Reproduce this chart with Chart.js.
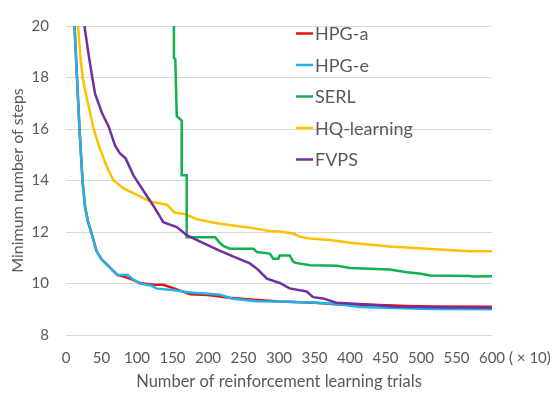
<!DOCTYPE html>
<html>
<head>
<meta charset="utf-8">
<script src="https://cdn.jsdelivr.net/npm/chart.js@4"></script>
<style>
  html, body { margin: 0; padding: 0; background: #fff; }
  #wrap { width: 560px; height: 394px; position: relative; }
</style>
</head>
<body>
<div id="wrap"><canvas id="chart" width="560" height="394"></canvas></div>
<script>
// Minimum number of steps vs. reinforcement learning trials (x10)
const seriesNames = ['HPG-a', 'HPG-e', 'SERL', 'HQ-learning', 'FVPS'];
const seriesColors = ['#E3110F', '#1EB4EA', '#12B04F', '#FFC000', '#7030A0'];

const hpgaX = [12, 15.5, 19, 23.5, 27, 31, 36, 43, 50, 57, 66, 73, 80, 90, 104, 123, 137, 150, 175, 200, 230, 260, 300, 350, 390, 432, 480, 520, 600];
const hpgaY = [20, 18, 16, 13.9, 12.95, 12.4, 11.95, 11.26, 10.94, 10.75, 10.5, 10.33, 10.28, 10.19, 10.02, 9.95, 9.95, 9.83, 9.58, 9.55, 9.45, 9.38, 9.3, 9.25, 9.17, 9.17, 9.13, 9.11, 9.1];

const hpgeX = [12, 15.5, 19, 23.5, 27, 31, 36, 43, 50, 57, 66, 73, 87, 95, 104, 120, 128, 150, 175, 200, 217, 235, 269, 315, 353, 382, 414, 450, 513, 600];
const hpgeY = [20, 18, 16, 13.9, 12.95, 12.4, 11.95, 11.26, 10.94, 10.75, 10.5, 10.33, 10.33, 10.15, 10.0, 9.92, 9.8, 9.75, 9.65, 9.6, 9.56, 9.41, 9.31, 9.29, 9.25, 9.2, 9.09, 9.06, 9.01, 9.0];

const serlX = [152, 152, 154, 156, 163, 163, 170, 170, 210, 216, 222, 231, 264, 269, 287, 292, 299, 301, 315, 320, 323, 344, 382, 400, 456, 480, 500, 513, 569, 573, 600];
const serlY = [20, 18.76, 18.7, 16.5, 16.33, 14.2, 14.2, 11.8, 11.8, 11.6, 11.45, 11.35, 11.35, 11.22, 11.16, 10.96, 10.96, 11.09, 11.09, 10.85, 10.8, 10.71, 10.69, 10.6, 10.54, 10.44, 10.38, 10.31, 10.29, 10.27, 10.28];

const hqX = [17, 20, 23.5, 27, 32, 39, 46, 53, 58, 67, 76, 81, 100, 118, 142, 153, 168, 184, 212, 245, 259, 287, 301, 320, 330, 344, 372, 400, 456, 513, 569, 600];
const hqY = [20, 18.86, 18.0, 17.5, 16.86, 16.0, 15.36, 14.86, 14.5, 14.0, 13.8, 13.69, 13.44, 13.19, 13.06, 12.75, 12.69, 12.5, 12.34, 12.21, 12.17, 12.04, 12.02, 11.94, 11.81, 11.75, 11.69, 11.58, 11.44, 11.34, 11.25, 11.25];

const fvpsX = [26, 32, 37, 41, 51, 60, 69, 76, 84, 90, 95, 107, 116, 125, 137, 156, 170, 189, 214, 231, 259, 270, 283, 301, 315, 339, 348, 362, 381, 419, 466, 520, 600];
const fvpsY = [20, 18.86, 18.0, 17.36, 16.6, 16.1, 15.36, 15.05, 14.86, 14.5, 14.2, 13.69, 13.31, 12.94, 12.38, 12.19, 11.88, 11.63, 11.31, 11.1, 10.78, 10.55, 10.19, 10.02, 9.81, 9.69, 9.47, 9.42, 9.25, 9.19, 9.1, 9.08, 9.06];

const allX = [hpgaX, hpgeX, serlX, hqX, fvpsX];
const allY = [hpgaY, hpgeY, serlY, hqY, fvpsY];
const drawOrder = [2, 1, 3, 4, 0]; // lower = drawn on top

const textColor = '#595959';
const fontFamily = 'Lato, "Noto Sans", sans-serif';

function toPoints(xs, ys) {
  return xs.map((x, i) => ({ x: x, y: ys[i] }));
}

const datasets = seriesNames.map((name, i) => ({
  label: name,
  data: toPoints(allX[i], allY[i]),
  borderColor: seriesColors[i],
  backgroundColor: seriesColors[i],
  borderWidth: 2.5,
  pointRadius: 0,
  tension: 0,
  fill: false,
  order: drawOrder[i]
}));

// legend drawn inside the plot, plus the (x10) note by the last tick
const extras = {
  id: 'extras',
  afterDraw(chart) {
    const ctx = chart.ctx;
    ctx.save();
    ctx.font = '18px ' + fontFamily;
    ctx.textBaseline = 'middle';
    ctx.textAlign = 'left';
    chart.data.datasets.forEach((ds, i) => {
      const y = 33.5 + i * 31.5;
      ctx.strokeStyle = ds.borderColor;
      ctx.lineWidth = 2.5;
      ctx.beginPath();
      ctx.moveTo(296, y);
      ctx.lineTo(313, y);
      ctx.stroke();
      ctx.fillStyle = textColor;
      ctx.fillText(ds.label, 315, y + 1);
    });
    ctx.font = '15px ' + fontFamily;
    ctx.fillText('( × 10)', 509, 358);
    ctx.restore();
  }
};

new Chart(document.getElementById('chart'), {
  type: 'line',
  data: { datasets: datasets },
  options: {
    responsive: false,
    animation: false,
    maintainAspectRatio: false,
    layout: { padding: { top: 15, right: 68, left: 0, bottom: 0 } },
    plugins: {
      legend: { display: false },
      tooltip: { enabled: false }
    },
    scales: {
      x: {
        type: 'linear',
        min: 0,
        max: 600,
        afterFit: s => { s.height = 59; },
        ticks: { stepSize: 50, color: textColor, font: { family: fontFamily, size: 15 }, padding: 14, maxRotation: 0, autoSkip: false },
        grid: { display: false, drawTicks: false },
        border: { display: false },
        title: { display: true, text: 'Number of reinforcement learning trials', color: textColor, font: { family: fontFamily, size: 16.5 }, padding: { top: 0, bottom: 2 } }
      },
      y: {
        min: 8,
        max: 20,
        afterFit: s => { s.width = 66; },
        ticks: { stepSize: 2, color: textColor, font: { family: fontFamily, size: 15 }, padding: 17 },
        grid: { color: '#d9d9d9', lineWidth: 1, drawTicks: false },
        border: { display: false },
        title: { display: true, text: 'Minimum number of steps', color: textColor, font: { family: fontFamily, size: 16 }, padding: { top: 8, bottom: 0 } }
      }
    }
  },
  plugins: [extras]
});
</script>
</body>
</html>
